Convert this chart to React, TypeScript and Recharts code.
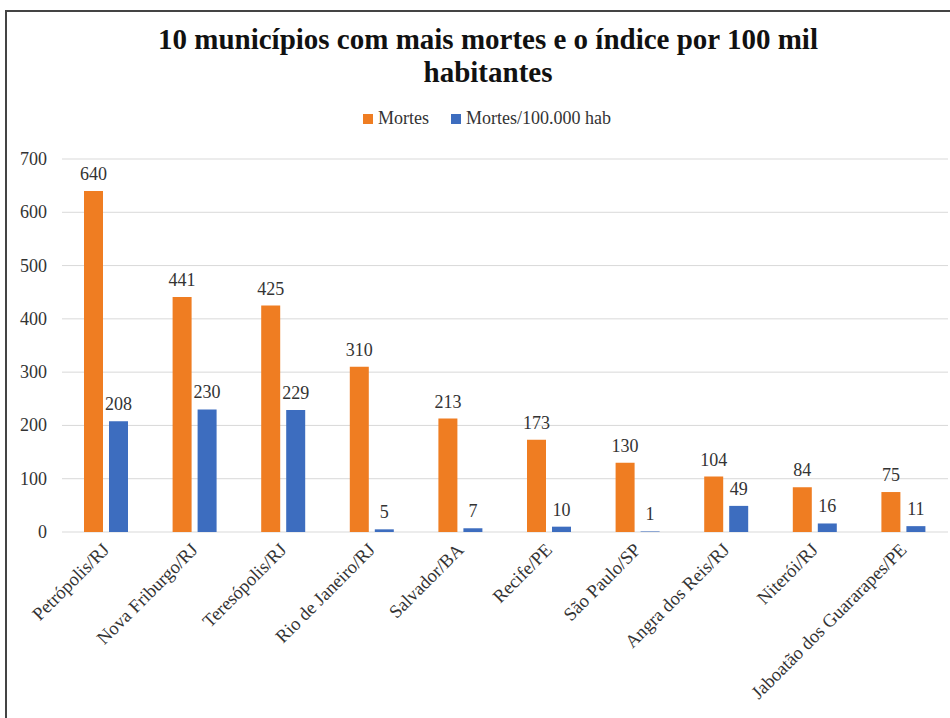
import React from 'react';
import { BarChart, Bar, XAxis, YAxis, CartesianGrid, Legend, LabelList } from 'recharts';

const municipios = [
  'Petrópolis/RJ',
  'Nova Friburgo/RJ',
  'Teresópolis/RJ',
  'Rio de Janeiro/RJ',
  'Salvador/BA',
  'Recife/PE',
  'São Paulo/SP',
  'Angra dos Reis/RJ',
  'Niterói/RJ',
  'Jaboatão dos Guararapes/PE',
];
const mortes = [640, 441, 425, 310, 213, 173, 130, 104, 84, 75];
const mortesPor100k = [208, 230, 229, 5, 7, 10, 1, 49, 16, 11];
const yTicks = [0, 100, 200, 300, 400, 500, 600, 700];

const data = municipios.map((m, i) => ({ nome: m, mortes: mortes[i], indice: mortesPor100k[i] }));

const SERIF = '"Liberation Serif", "Times New Roman", serif';
const ORANGE = '#EF7D22';
const BLUE = '#3D6DBF';
const TEXT = '#333';

// rotated category labels, anchored at their end
const XTick = (props: any) => {
  const { x, y, payload } = props;
  return (
    <g transform={`translate(${x + 4},${y + 11})`}>
      <text textAnchor="end" transform="rotate(-45)" fontSize={18.5} fill={TEXT} fontFamily={SERIF}>
        {payload.value}
      </text>
    </g>
  );
};

const YTick = (props: any) => {
  const { x, y, payload } = props;
  return (
    <text x={x} y={y} dy={6} textAnchor="end" fontSize={18} fill={TEXT} fontFamily={SERIF}>
      {payload.value}
    </text>
  );
};

const ValueLabel = (props: any) => {
  const { x, y, width, value } = props;
  return (
    <text x={x + width / 2} y={y - 11} textAnchor="middle" fontSize={18} fill={TEXT} fontFamily={SERIF}>
      {value}
    </text>
  );
};

const LegendBox = (props: any) => {
  const { payload } = props;
  return (
    <div style={{ display: 'flex', justifyContent: 'center', fontFamily: SERIF, fontSize: 18, color: TEXT }}>
      {payload.map((p: any) => (
        <span key={p.value} style={{ display: 'flex', alignItems: 'center', margin: '0 11px' }}>
          <span style={{ width: 10, height: 10, background: p.color, marginRight: 5, display: 'inline-block' }} />
          {p.value}
        </span>
      ))}
    </div>
  );
};

export default function App() {
  return (
    <div
      style={{
        position: 'absolute',
        left: 0,
        top: 0,
        width: 950,
        height: 718,
        background: '#fff',
        overflow: 'hidden',
        fontFamily: SERIF,
      }}
    >
      <div
        style={{
          position: 'absolute',
          left: 5,
          top: 10,
          width: 960,
          height: 730,
          border: '2px solid #444',
          boxSizing: 'border-box',
        }}
      />
      <div
        style={{
          position: 'absolute',
          left: 0,
          top: 23,
          width: 976,
          textAlign: 'center',
          fontWeight: 'bold',
          fontSize: 29,
          lineHeight: '33px',
          color: '#111',
        }}
      >
        10 municípios com mais mortes e o índice por 100 mil
        <br />
        habitantes
      </div>
      <BarChart
        width={950}
        height={718}
        data={data}
        margin={{ top: 138, right: 2, bottom: 0, left: 12 }}
        barSize={19}
        barGap={6}
      >
        <CartesianGrid vertical={false} stroke="#d9d9d9" />
        <XAxis dataKey="nome" interval={0} axisLine={false} tickLine={false} tick={<XTick />} height={186} />
        <YAxis
          domain={[0, 700]}
          ticks={yTicks}
          axisLine={false}
          tickLine={false}
          width={50}
          tickMargin={9}
          tick={<YTick />}
        />
        <Legend
          verticalAlign="top"
          content={<LegendBox />}
          wrapperStyle={{ top: 108, left: 0, width: 974 }}
        />
        <Bar dataKey="mortes" name="Mortes" fill={ORANGE} isAnimationActive={false}>
          <LabelList dataKey="mortes" content={<ValueLabel />} />
        </Bar>
        <Bar dataKey="indice" name="Mortes/100.000 hab" fill={BLUE} isAnimationActive={false}>
          <LabelList dataKey="indice" content={<ValueLabel />} />
        </Bar>
      </BarChart>
    </div>
  );
}
